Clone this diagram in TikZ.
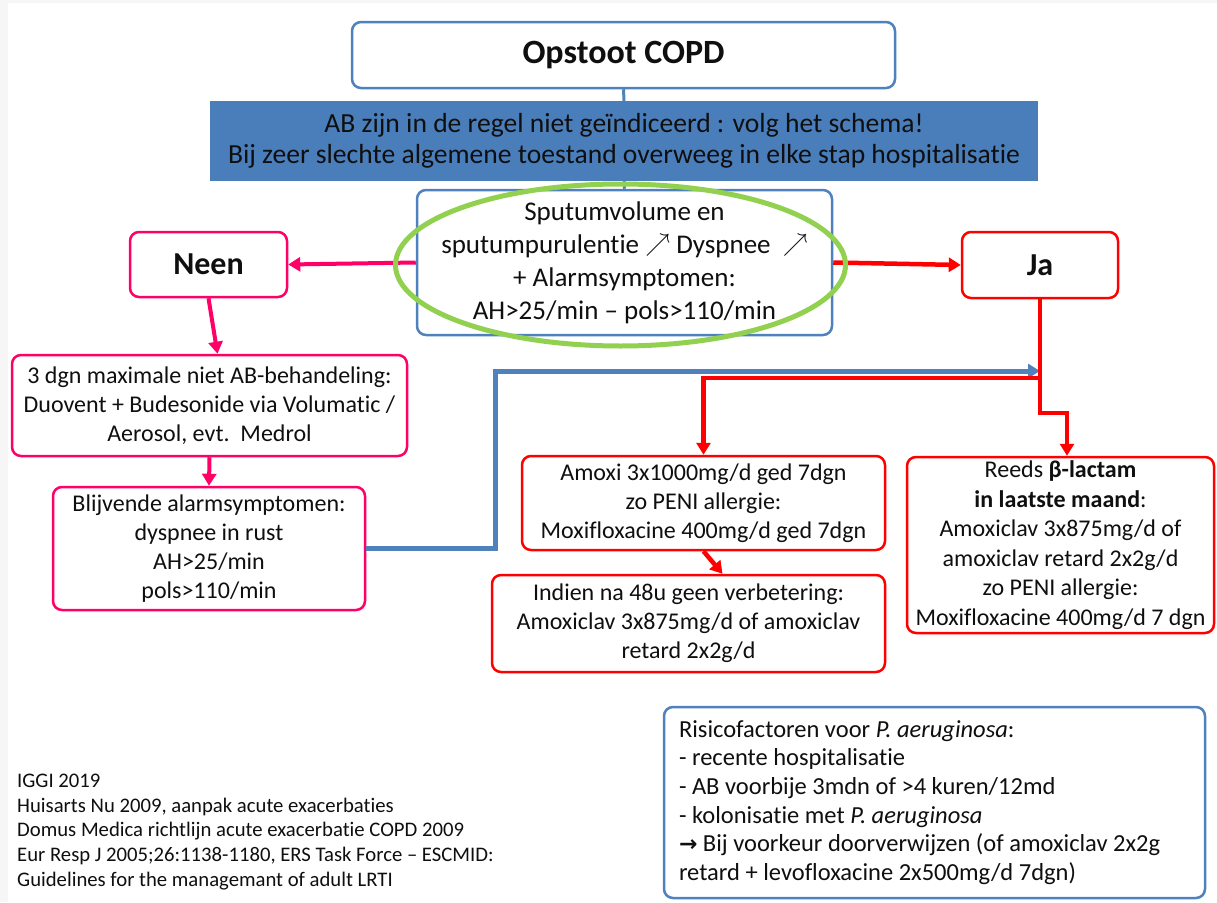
\documentclass[tikz,border=0pt]{standalone}
\usepackage{fontspec}
\setmainfont{Carlito}[Ligatures={NoCommon,NoContextual}]
\newfontfamily\dejavu{DejaVu Sans}
\usetikzlibrary{arrows.meta,calc}
\definecolor{obl}{RGB}{79,129,189}
\definecolor{band}{RGB}{74,126,187}
\definecolor{pnk}{RGB}{255,0,102}
\definecolor{rd}{RGB}{255,0,0}
\definecolor{grn}{RGB}{146,208,80}
\definecolor{txt}{RGB}{15,15,15}
\definecolor{bgs}{RGB}{246,246,246}
\newcommand{\upar}{\raisebox{1.5pt}{\fontsize{25}{33}\selectfont$\nearrow$}}
\begin{document}
\begin{tikzpicture}[x=1pt,y=-1pt,
  box/.style={draw, line width=2.5pt, rounded corners=9pt, fill=white, align=center, inner sep=0pt, text=txt},
  bluebox/.style={box, draw=obl},
  pinkbox/.style={box, draw=pnk},
  redbox/.style={box, draw=rd},
  body/.style={font=\fontsize{24}{29}\selectfont},
  big/.style={font=\bfseries\fontsize{32}{38}\selectfont},
  tip/.style={-{Triangle[length=12pt,width=14pt]}},
  pinkconn/.style={pnk, line width=4pt, tip},
  redconn/.style={rd, line width=4.5pt, tip},
  blueconn/.style={obl, line width=5pt, tip},
  thinblue/.style={obl, line width=3pt},
]
\useasboundingbox (0,0) rectangle (1217,902);
\fill[bgs] (0,0) rectangle (1217,902);
\fill[white] (8,3) rectangle (1217,902);

% nodes
\node[bluebox, minimum width=543pt, minimum height=66pt, font=\bfseries\fontsize{34}{40}\selectfont] (opst) at (623.5,55) {Opstoot COPD};
\node[fill=band, minimum width=828pt, minimum height=80pt, inner sep=0pt, align=center, text=txt, font=\fontsize{27.6}{30.5}\selectfont] (banner) at (624,141)
  {AB zijn in de regel niet geïndiceerd : volg het schema!\\Bij zeer slechte algemene toestand overweeg in elke stap hospitalisatie};
\node[bluebox, minimum width=415pt, minimum height=145pt, font=\fontsize{27}{33}\selectfont] (sput) at (624.5,262.5)
  {Sputumvolume en\\sputumpurulentie \upar\ Dyspnee\ \ \upar\\+ Alarmsymptomen:\\AH>25/min – pols>110/min};
\node[pinkbox, big, minimum width=157pt, minimum height=65pt] (neen) at (208.5,264.5) {Neen};
\node[redbox, big, minimum width=156pt, minimum height=66pt] (ja) at (1040,265) {Ja};
\node[pinkbox, body, minimum width=395pt, minimum height=101pt] (dgn) at (209.5,405.5)
  {3 dgn maximale niet AB-behandeling:\\Duovent + Budesonide via Volumatic /\\Aerosol, evt.\ \ Medrol};
\node[pinkbox, body, minimum width=312pt, minimum height=123pt] (blij) at (209,548.5)
  {Blijvende alarmsymptomen:\\dyspnee in rust\\AH>25/min\\pols>110/min};
\node[redbox, body, minimum width=363pt, minimum height=94pt] (amoxi) at (703.5,503)
  {Amoxi 3x1000mg/d ged 7dgn\\zo PENI allergie:\\Moxifloxacine 400mg/d ged 7dgn};
\node[redbox, body, minimum width=393pt, minimum height=97pt] (indien) at (688.5,623.5)
  {Indien na 48u geen verbetering:\\Amoxiclav 3x875mg/d of amoxiclav\\retard 2x2g/d};
\node[redbox, minimum width=307pt, minimum height=176pt, font=\fontsize{24}{29.5}\selectfont] (reeds) at (1060.5,545)
  {Reeds \textbf{β-lactam}\\\textbf{in laatste maand}:\\Amoxiclav 3x875mg/d of\\amoxiclav retard 2x2g/d\\zo PENI allergie:\\Moxifloxacine 400mg/d 7 dgn};
\node[bluebox, minimum width=541pt, minimum height=191pt, text width=511pt, align=flush left, font=\fontsize{24.5}{28.6}\selectfont] (risk) at (934.5,802.5)
  {Risicofactoren voor \textit{P. aeruginosa}:\\- recente hospitalisatie\\- AB voorbije 3mdn of >4 kuren/12md\\- kolonisatie met \textit{P. aeruginosa}\\{\dejavu\bfseries\fontsize{22}{24}\selectfont →} Bij voorkeur doorverwijzen (of amoxiclav 2x2g\\retard + levofloxacine 2x500mg/d 7dgn)};
\node[anchor=west, align=flush left, inner sep=0pt, text=txt, font=\fontsize{20.7}{24.8}\selectfont] (refs) at (17,832)
  {IGGI 2019\\Huisarts Nu 2009, aanpak acute exacerbaties\\Domus Medica richtlijn acute exacerbatie COPD 2009\\Eur Resp J 2005;26:1138-1180, ERS Task Force – ESCMID:\\Guidelines for the managemant of adult LRTI};

% helper coordinates
\coordinate (bluetip) at (1040,371);
\coordinate (jb1) at (1040,413);
\coordinate (jb2) at (1067,413);
\coordinate (jsplit) at (1040,378);

% connectors
\draw[thinblue] (opst.south) -- (banner.north);
\draw[thinblue] (banner.south) -- (sput.north);
\draw[pinkconn] (sput.west) -- (neen.east);
\draw[redconn] (sput.east) -- (ja.west);
\draw[pinkconn] (neen.south) -- ([xshift=8pt]dgn.north);
\draw[pinkconn] (dgn.south) -- (blij.north);
\draw[blueconn] (blij.east) -| (495,371) -- (bluetip);
\draw[redconn] (ja.south) -- (jb1) -- (jb2) -- (jb2 |- reeds.north);
\draw[redconn] (jsplit) -- (amoxi.north |- jsplit) -- (amoxi.north);
\draw[redconn] (amoxi.south) -- ([xshift=34pt]indien.north);

% green highlight ellipse
\draw[grn, line width=5pt] (620.5,265) ellipse [x radius=225pt, y radius=81pt];
\end{tikzpicture}
\end{document}
